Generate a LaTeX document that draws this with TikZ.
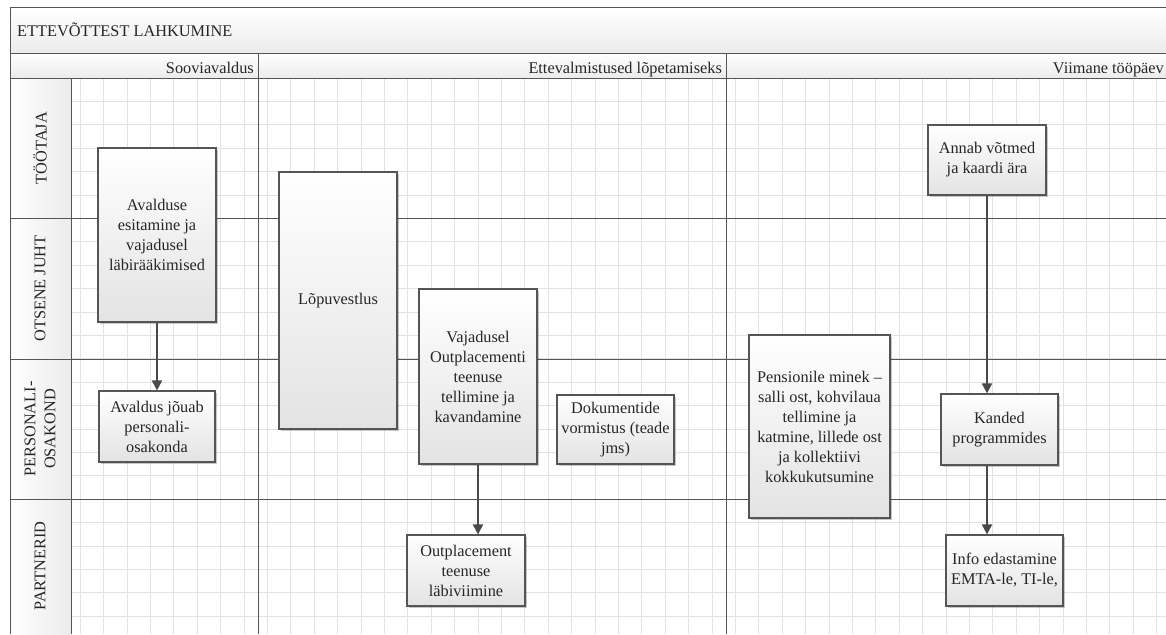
\documentclass[tikz,border=0pt]{standalone}
\usepackage{fontspec}
\setmainfont{Liberation Serif}
\usetikzlibrary{arrows.meta,shadows,calc}
\definecolor{lineg}{HTML}{555555}
\definecolor{gridg}{HTML}{E2E2E2}
\definecolor{arrowg}{HTML}{4A4A4A}
\definecolor{headg}{HTML}{EBEBEB}

\begin{document}
\begin{tikzpicture}[x=1pt,y=-1pt,
  txt/.style={font=\fontsize{16.3}{20}\selectfont, text=black!85},
  box/.style={txt, draw=lineg, line width=1.1pt, top color=white, bottom color=black!11,
    align=center, inner sep=2pt,
    drop shadow={shadow xshift=1.6pt, shadow yshift=-1.6pt, opacity=0.22, fill=black}},
  flow/.style={draw=arrowg, line width=1.8pt, -{Triangle[length=10pt,width=10pt]}},
  sep/.style={draw=lineg, line width=1pt},
  lanelabel/.style={txt, rotate=90, align=center}]

\useasboundingbox (0,0) rectangle (1166,634);

% header bars and lane label column
\fill[top color=white, bottom color=headg] (10,8) rectangle (1166,54);
\fill[top color=white, bottom color=headg] (10,54) rectangle (1166,78);
\fill[left color=white, right color=headg] (10,78) rectangle (71,634);

% background grid of the pool
\begin{scope}
  \clip (71,78) rectangle (1166,634);
  \foreach \i in {0,...,50} \draw[gridg, line width=0.8pt] (10+\i*23.4,78) -- (10+\i*23.4,634);
  \foreach \j in {0,...,24} \draw[gridg, line width=0.8pt] (10,78+\j*23.4) -- (1166,78+\j*23.4);
\end{scope}

% frame, phase and lane separators
\draw[sep] (1166,8) -- (10,8) -- (10,634);
\draw[sep] (10,54) -- (1166,54);
\draw[sep] (10,78) -- (1166,78);
\draw[sep] (71,78) -- (71,634);
\draw[sep] (258,54) -- (258,634);
\draw[sep] (726,54) -- (726,634);
\foreach \y in {218,359,499} \draw[sep] (10,\y) -- (1166,\y);

% title and phase headings
\node[txt, anchor=base west, inner sep=0] (title) at (17,37) {ETTEVÕTTEST LAHKUMINE};
\node[txt, anchor=base east, inner sep=0] (ph1) at (254,74) {Sooviavaldus};
\node[txt, anchor=base east, inner sep=0] (ph2) at (722,74) {Ettevalmistused lõpetamiseks};
\node[txt, anchor=base east, inner sep=0] (ph3) at (1164,74) {Viimane tööpäev};

% lane labels
\node[lanelabel] (ln1) at (40,148) {TÖÖTAJA};
\node[lanelabel] (ln2) at (40,288.5) {OTSENE JUHT};
\node[lanelabel] (ln3) at (40,429) {PERSONALI-\\OSAKOND};
\node[lanelabel] (ln4) at (40,566) {PARTNERID};

% process steps
\node[box, minimum width=118, minimum height=174] (avaldus) at (157,235)
  {Avalduse\\esitamine ja\\vajadusel\\läbirääkimised};
\node[box, minimum width=116, minimum height=71] (jouab) at (157,426.5)
  {Avaldus jõuab\\personali-\\osakonda};
\node[box, minimum width=118, minimum height=257] (lopu) at (338,300.5)
  {Lõpuvestlus};
\node[box, minimum width=118, minimum height=175] (vaja) at (478,376.5)
  {Vajadusel\\Outplacementi\\teenuse\\tellimine ja\\kavandamine};
\node[box, minimum width=117, minimum height=69] (doku) at (615.5,429.5)
  {Dokumentide\\vormistus (teade\\jms)};
\node[box, minimum width=118, minimum height=71] (outpl) at (466,570.5)
  {Outplacement\\teenuse\\läbiviimine};
\node[box, minimum width=141, minimum height=183] (pens) at (819.5,426.5)
  {Pensionile minek –\\salli ost, kohvilaua\\tellimine ja\\katmine, lillede ost\\ja kollektiivi\\kokkukutsumine};
\node[box, minimum width=118, minimum height=70] (annab) at (987,160)
  {Annab võtmed\\ja kaardi ära};
\node[box, minimum width=117, minimum height=71] (kanded) at (999.5,429.5)
  {Kanded\\programmides};
\node[box, minimum width=117, minimum height=71] (info) at (1004.5,570.5)
  {Info edastamine\\EMTA-le, TI-le,};

% connectors
\draw[flow] (avaldus.south) -- (avaldus.south |- jouab.north);
\draw[flow] (vaja.south) -- (vaja.south |- outpl.north);
\draw[flow] (annab.south) -- (annab.south |- kanded.north);
\draw[flow] (annab.south |- kanded.south) -- (annab.south |- info.north);
\end{tikzpicture}
\end{document}
